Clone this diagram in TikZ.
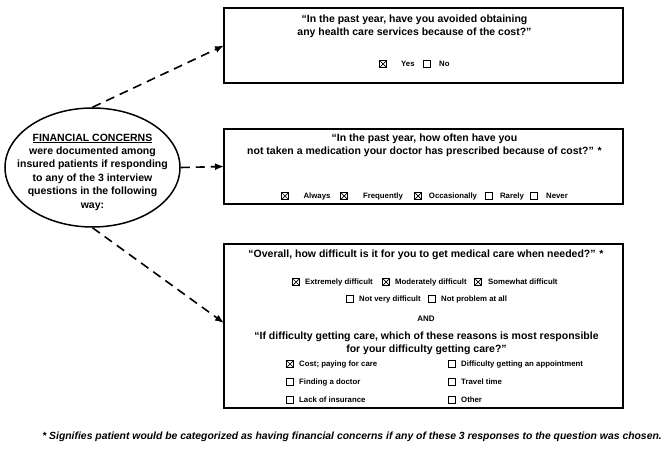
\documentclass[tikz,border=0pt]{standalone}
\usepackage{fontspec}
\setmainfont{Liberation Sans}
\usetikzlibrary{shapes.geometric,arrows.meta}
\tikzset{
  qbox/.style={draw, line width=1.6pt, inner sep=0, outer sep=0, anchor=north west, minimum width=399pt},
  cb/.style={draw, line width=0.9pt, minimum size=7.5pt, inner sep=0, outer sep=0},
  cbx/.style={cb, path picture={\draw[line width=0.7pt]
      ([shift={(1pt,-1pt)}]path picture bounding box.north west) -- ([shift={(-1pt,1pt)}]path picture bounding box.south east)
      ([shift={(-1pt,-1pt)}]path picture bounding box.north east) -- ([shift={(1pt,1pt)}]path picture bounding box.south west);}},
  qtxt/.style={font=\fontsize{10.5}{12.8}\selectfont\bfseries, align=center, inner sep=0},
  opt/.style={font=\fontsize{7.8}{9}\selectfont\bfseries, inner sep=0},
  arr/.style={line width=1.6pt, dash pattern=on 9pt off 6pt, -{Latex[length=9pt,width=7pt]}}
}
\begin{document}
\begin{tikzpicture}[x=1pt,y=-1pt]
\useasboundingbox (0,0) rectangle (668,449);
% boxes
\node[qbox, minimum height=75pt] (b1) at (224,8) {};
\node[qbox, minimum height=75pt] (b2) at (224,129) {};
\node[qbox, minimum height=164pt] (b3) at (224,244) {};
% ellipse
\node[draw, ellipse, line width=1.5pt, minimum width=175pt, minimum height=119pt, inner sep=0] (e) at (92.5,167.5) {};
\node[font=\fontsize{10.5}{13.4}\selectfont\bfseries, align=center, inner sep=0] (et) at (92.5,172) {\underline{FINANCIAL CONCERNS}\\were documented among\\insured patients if responding\\to any of the 3 interview\\questions in the following\\way:};
% arrows
\coordinate (a3) at (224,323);
\draw[arr] (e.north) -- (b1.west);
\draw[arr] (e.east) -- (b2.west);
\draw[arr] (e.south) -- (a3);
% box 1
\node[qtxt] (q1) at (414.5,26.5) {“In the past year, have you avoided obtaining\\any health care services because of the cost?”};
\node[cbx] (c11) at (383,64) {};
\node[opt, anchor=west] (l11) at (401,64) {Yes};
\node[cb] (c12) at (427,64) {};
\node[opt, anchor=west] (l12) at (439,64) {No};
% box 2
\node[qtxt] (q2) at (424.5,145.5) {“In the past year, how often have you\\not taken a medication your doctor has prescribed because of cost?” *};
\node[cbx] (c21) at (285,196) {};
\node[opt] (l21) at (317,196) {Always};
\node[cbx] (c22) at (344,196) {};
\node[opt] (l22) at (383,196) {Frequently};
\node[cbx] (c23) at (418,196) {};
\node[opt] (l23) at (453,196) {Occasionally};
\node[cb] (c24) at (489,196) {};
\node[opt] (l24) at (512,196) {Rarely};
\node[cb] (c25) at (534,196) {};
\node[opt] (l25) at (557,196) {Never};
% box 3
\node[qtxt] (q3) at (426,255) {“Overall, how difficult is it for you to get medical care when needed?” *};
\node[cbx] (c31) at (296,282) {};
\node[opt, anchor=west] (l31) at (305,282) {Extremely difficult};
\node[cbx] (c32) at (386,282) {};
\node[opt, anchor=west] (l32) at (395,282) {Moderately difficult};
\node[cbx] (c33) at (478,282) {};
\node[opt, anchor=west] (l33) at (488,282) {Somewhat difficult};
\node[cb] (c34) at (350,299) {};
\node[opt, anchor=west] (l34) at (359,299) {Not very difficult};
\node[cb] (c35) at (432,299) {};
\node[opt, anchor=west] (l35) at (441,299) {Not problem at all};
\node[font=\fontsize{8}{9}\selectfont\bfseries, inner sep=0] (and) at (426,319) {AND};
\node[qtxt] (q4) at (426.5,343) {“If difficulty getting care, which of these reasons is most responsible\\for your difficulty getting care?”};
\node[cbx] (c41) at (290,364) {};
\node[opt, anchor=west] (l41) at (299,364) {Cost; paying for care};
\node[cb] (c42) at (452,364) {};
\node[opt, anchor=west] (l42) at (461,364) {Difficulty getting an appointment};
\node[cb] (c43) at (290,382) {};
\node[opt, anchor=west] (l43) at (299,382) {Finding a doctor};
\node[cb] (c44) at (452,382) {};
\node[opt, anchor=west] (l44) at (461,382) {Travel time};
\node[cb] (c45) at (290,400) {};
\node[opt, anchor=west] (l45) at (299,400) {Lack of insurance};
\node[cb] (c46) at (452,400) {};
\node[opt, anchor=west] (l46) at (461,400) {Other};
% footnote
\node[font=\fontsize{10.4}{12}\selectfont\bfseries\itshape, anchor=east, inner sep=0] (fn) at (662,437) {* Signifies patient would be categorized as having financial concerns if any of these 3 responses to the question was chosen.};
\end{tikzpicture}
\end{document}
